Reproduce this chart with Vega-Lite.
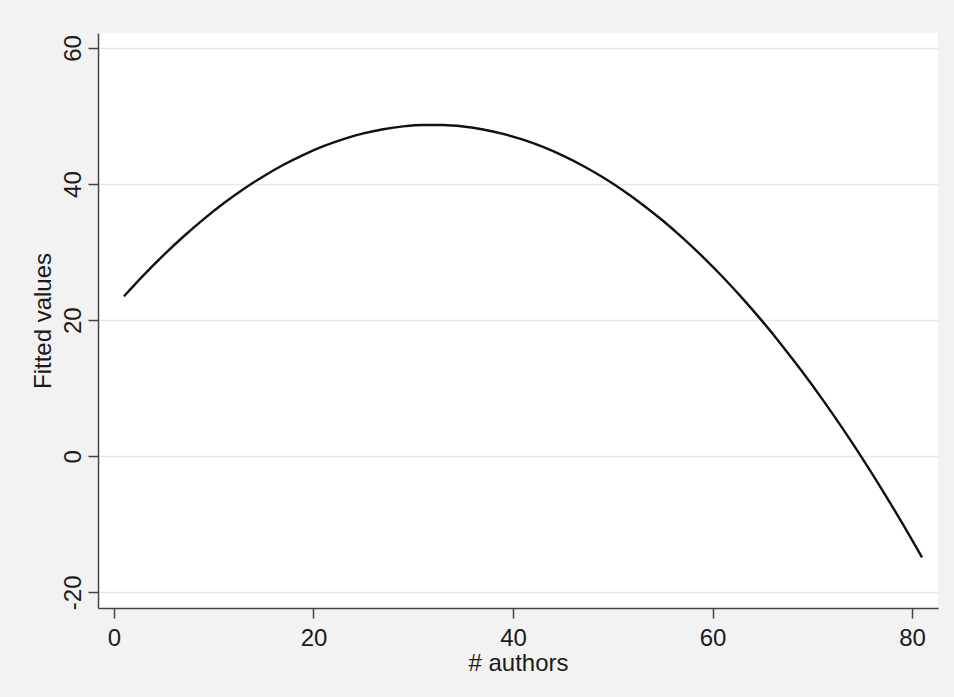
{
  "$schema": "https://vega.github.io/schema/vega-lite/v6.json",
  "width": 840,
  "height": 575,
  "autosize": {"type": "none"},
  "padding": {"left": 98, "top": 33, "right": 16, "bottom": 89},
  "background": "#f2f2f2",
  "config": {
    "view": {"fill": "white", "stroke": null},
    "font": "Liberation Sans",
    "axis": {
      "domainColor": "#444444",
      "domainWidth": 1.5,
      "tickColor": "#444444",
      "tickWidth": 1.5,
      "tickSize": 10,
      "labelColor": "#1a1a1a",
      "labelFontSize": 24,
      "titleColor": "#1a1a1a",
      "titleFontSize": 24,
      "titleFontWeight": "normal",
      "gridColor": "#e8e8e8",
      "gridWidth": 1.5
    }
  },
  "data": {
    "values": [
      {"authors": 1, "fitted": 23.50},
      {"authors": 3, "fitted": 26.65},
      {"authors": 5, "fitted": 29.60},
      {"authors": 7, "fitted": 32.33},
      {"authors": 9, "fitted": 34.85},
      {"authors": 11, "fitted": 37.17},
      {"authors": 13, "fitted": 39.27},
      {"authors": 15, "fitted": 41.16},
      {"authors": 17, "fitted": 42.84},
      {"authors": 19, "fitted": 44.30},
      {"authors": 21, "fitted": 45.56},
      {"authors": 23, "fitted": 46.61},
      {"authors": 25, "fitted": 47.44},
      {"authors": 27, "fitted": 48.06},
      {"authors": 29, "fitted": 48.48},
      {"authors": 31, "fitted": 48.68},
      {"authors": 33, "fitted": 48.67},
      {"authors": 35, "fitted": 48.45},
      {"authors": 37, "fitted": 48.02},
      {"authors": 39, "fitted": 47.37},
      {"authors": 41, "fitted": 46.52},
      {"authors": 43, "fitted": 45.46},
      {"authors": 45, "fitted": 44.18},
      {"authors": 47, "fitted": 42.69},
      {"authors": 49, "fitted": 40.99},
      {"authors": 51, "fitted": 39.09},
      {"authors": 53, "fitted": 36.97},
      {"authors": 55, "fitted": 34.64},
      {"authors": 57, "fitted": 32.09},
      {"authors": 59, "fitted": 29.34},
      {"authors": 61, "fitted": 26.38},
      {"authors": 63, "fitted": 23.20},
      {"authors": 65, "fitted": 19.82},
      {"authors": 67, "fitted": 16.22},
      {"authors": 69, "fitted": 12.41},
      {"authors": 71, "fitted": 8.39},
      {"authors": 73, "fitted": 4.16},
      {"authors": 75, "fitted": -0.28},
      {"authors": 77, "fitted": -4.93},
      {"authors": 79, "fitted": -9.80},
      {"authors": 81, "fitted": -14.87}
    ]
  },
  "mark": {"type": "line", "color": "#111111", "strokeWidth": 2.4, "interpolate": "monotone"},
  "encoding": {
    "x": {
      "field": "authors",
      "type": "quantitative",
      "scale": {"domain": [-1.6, 82.6], "nice": false, "zero": false},
      "axis": {
        "values": [0, 20, 40, 60, 80],
        "grid": false,
        "labelPadding": 8,
        "title": "# authors",
        "titlePadding": 1
      }
    },
    "y": {
      "field": "fitted",
      "type": "quantitative",
      "scale": {"domain": [-22.3, 62.2], "nice": false, "zero": false},
      "axis": {
        "values": [-20, 0, 20, 40, 60],
        "labelExpr": "'' + datum.value",
        "grid": true,
        "labelAngle": -90,
        "labelAlign": "center",
        "labelBaseline": "alphabetic",
        "labelPadding": 8,
        "title": "Fitted values",
        "titlePadding": 6
      }
    }
  }
}
